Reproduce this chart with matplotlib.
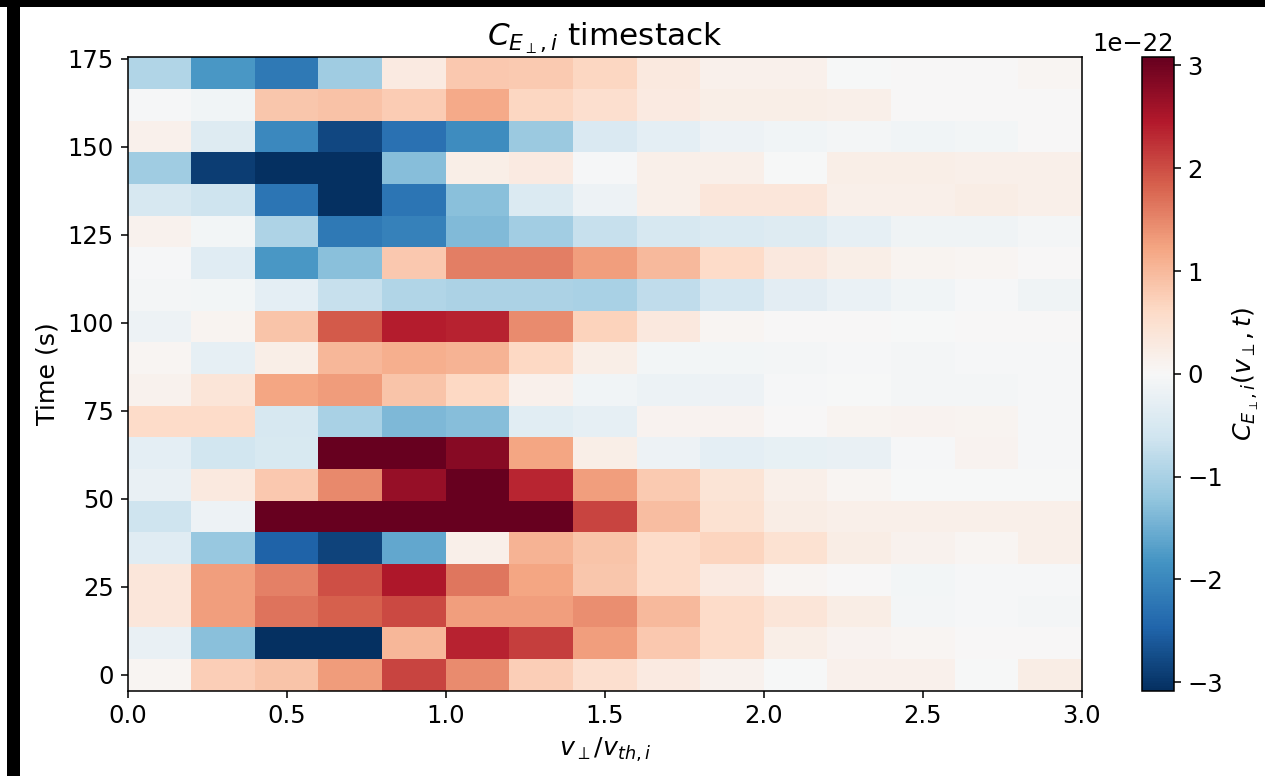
import numpy as np
import matplotlib
matplotlib.use("Agg")
import matplotlib.pyplot as plt
from matplotlib.patches import Rectangle
from matplotlib.ticker import MultipleLocator

# perpendicular velocity bin centres (v_perp / v_th,i)
v_perp = [0.1, 0.3, 0.5, 0.7, 0.9, 1.1, 1.3, 1.5, 1.7, 1.9, 2.1, 2.3, 2.5, 2.7, 2.9]
# time of each stacked snapshot (s)
times = [0, 9, 18, 27, 36, 45, 54, 63, 72, 81, 90, 99, 108, 117, 126, 135, 144, 153, 162, 171]
# correlation C_{E_perp,i}(v_perp, t) in units of 1e-22, one row per time
c_t000 = [0.05, 0.76, 0.87, 1.31, 2.07, 1.45, 0.76, 0.51, 0.27, 0.13, -0.02, 0.15, 0.15, -0.02, 0.22]
c_t009 = [-0.23, -1.28, -3.2, -3.2, 1.02, 2.36, 2.13, 1.28, 0.83, 0.58, 0.20, 0.10, 0.05, 0.0, 0.0]
c_t018 = [0.38, 1.28, 1.67, 1.85, 2.03, 1.28, 1.28, 1.42, 1.00, 0.60, 0.40, 0.24, -0.05, -0.03, -0.05]
c_t027 = [0.38, 1.28, 1.54, 1.99, 2.50, 1.66, 1.22, 0.86, 0.60, 0.27, 0.07, 0.0, -0.08, -0.03, -0.03]
c_t036 = [-0.37, -1.17, -2.49, -2.86, -1.61, 0.18, 1.06, 0.87, 0.60, 0.69, 0.46, 0.22, 0.13, 0.07, 0.18]
c_t045 = [-0.63, -0.15, 3.2, 3.2, 3.2, 3.2, 3.2, 2.09, 0.96, 0.46, 0.24, 0.18, 0.18, 0.18, 0.18]
c_t054 = [-0.23, 0.29, 0.84, 1.47, 2.69, 3.2, 2.34, 1.28, 0.81, 0.42, 0.18, 0.05, -0.02, -0.02, -0.02]
c_t063 = [-0.29, -0.59, -0.50, 3.2, 3.2, 2.81, 1.22, 0.20, -0.15, -0.29, -0.26, -0.24, -0.03, 0.10, -0.03]
c_t072 = [0.58, 0.58, -0.52, -0.99, -1.38, -1.30, -0.36, -0.28, 0.12, 0.10, 0.0, 0.08, 0.10, 0.08, -0.03]
c_t081 = [0.13, 0.40, 1.21, 1.31, 0.88, 0.64, 0.15, -0.12, -0.18, -0.15, -0.04, -0.02, -0.06, -0.06, -0.04]
c_t090 = [0.05, -0.28, 0.20, 1.02, 1.11, 1.08, 0.64, 0.20, -0.08, -0.08, -0.06, -0.04, -0.06, -0.04, -0.04]
c_t099 = [-0.15, 0.09, 0.89, 1.90, 2.43, 2.37, 1.46, 0.72, 0.33, 0.05, 0.0, 0.0, -0.01, 0.0, 0.0]
c_t108 = [-0.05, -0.08, -0.29, -0.71, -0.93, -0.97, -0.97, -0.99, -0.79, -0.54, -0.33, -0.20, -0.11, -0.03, -0.13]
c_t117 = [-0.03, -0.37, -1.79, -1.29, 0.83, 1.58, 1.57, 1.29, 0.99, 0.60, 0.33, 0.20, 0.09, 0.06, 0.0]
c_t126 = [0.13, -0.08, -0.96, -2.20, -2.07, -1.37, -1.07, -0.70, -0.52, -0.44, -0.39, -0.28, -0.13, -0.13, -0.05]
c_t135 = [-0.52, -0.63, -2.24, -3.2, -2.24, -1.28, -0.44, -0.15, 0.18, 0.38, 0.38, 0.18, 0.18, 0.24, 0.18]
c_t144 = [-1.10, -2.93, -3.2, -3.2, -1.32, 0.20, 0.27, -0.03, 0.18, 0.18, -0.02, 0.20, 0.20, 0.17, 0.17]
c_t153 = [0.15, -0.39, -1.99, -2.80, -2.30, -1.93, -1.15, -0.47, -0.31, -0.15, -0.11, -0.05, -0.10, -0.08, 0.0]
c_t162 = [-0.03, -0.10, 0.86, 0.91, 0.79, 1.17, 0.67, 0.51, 0.27, 0.20, 0.20, 0.18, 0.0, 0.0, 0.0]
c_t171 = [-0.92, -1.80, -2.20, -1.10, 0.27, 0.83, 0.81, 0.65, 0.31, 0.155, 0.155, -0.02, 0.0, 0.0, 0.05]
c_scale = 1e-22
c_limit = 3.08e-22

rows = [c_t000, c_t009, c_t018, c_t027, c_t036, c_t045, c_t054, c_t063, c_t072, c_t081,
        c_t090, c_t099, c_t108, c_t117, c_t126, c_t135, c_t144, c_t153, c_t162, c_t171]
C = np.array(rows) * c_scale

plt.rcParams['font.family'] = ['DejaVu Sans']
plt.rcParams['font.size'] = 12

fig = plt.figure(figsize=(1265 / 140, 776 / 140), dpi=140)
ax = fig.add_axes([127.5 / 1265, 1 - 690.5 / 776, 954.5 / 1265, 633.3 / 776])
cax = fig.add_axes([1142 / 1265, 1 - 690.5 / 776, 32 / 1265, 633.3 / 776])

pcm = ax.pcolormesh(v_perp, times, C, cmap='RdBu_r', vmin=-c_limit, vmax=c_limit,
                    shading='nearest')
ax.set_xlim(0, 3.0)
ax.yaxis.set_major_locator(MultipleLocator(25))
ax.set_title(r'$C_{E_\perp,i}$ timestack', fontsize=16)
ax.set_xlabel(r'$v_\perp/v_{th,i}$', fontsize=13)
ax.set_ylabel('Time (s)', fontsize=13)
ax.tick_params(labelsize=12.5)

cb = fig.colorbar(pcm, cax=cax)
cb.set_label(r'$C_{E_\perp,i}(v_\perp,t)$', fontsize=13)
cb.ax.tick_params(labelsize=12.5)
cb.ax.yaxis.get_offset_text().set_fontsize(12.5)

# dark screenshot border (top and left)
fig.patches.append(Rectangle((0, 1 - 7 / 776), 1, 7 / 776, transform=fig.transFigure,
                             facecolor='black', edgecolor='none', zorder=10))
fig.patches.append(Rectangle((7 / 1265, 0), 13 / 1265, 1, transform=fig.transFigure,
                             facecolor='black', edgecolor='none', zorder=10))

fig.savefig('out.png', dpi=140)
